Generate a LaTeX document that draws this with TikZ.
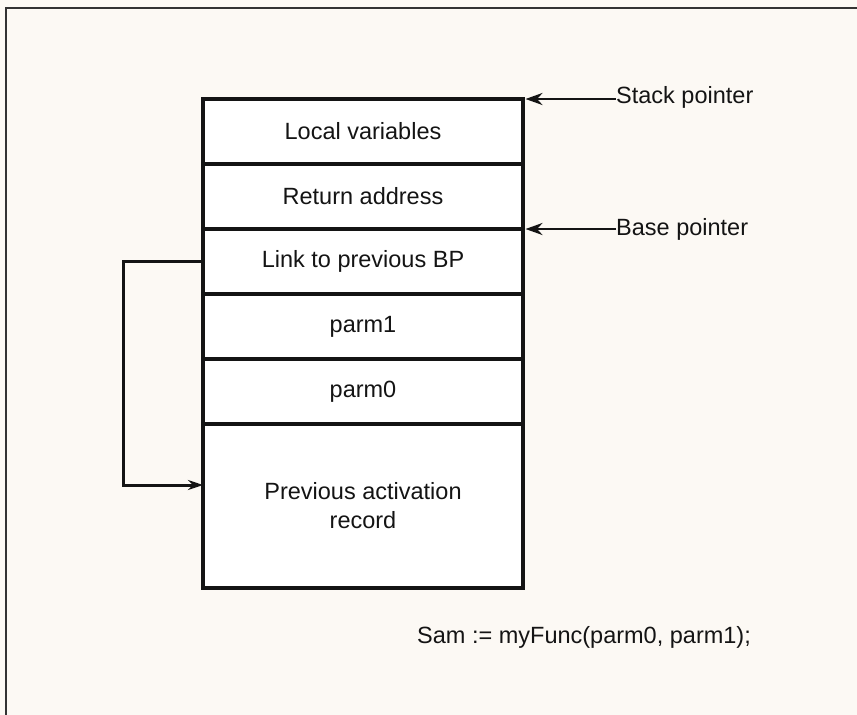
\documentclass[tikz,border=0pt]{standalone}
\usepackage{fontspec}
\setmainfont{Liberation Sans}
\usetikzlibrary{arrows.meta,positioning,calc}
\definecolor{cInk}{HTML}{141414}
\definecolor{cPaper}{HTML}{FCF9F4}
\definecolor{cFrame}{HTML}{333333}
\tikzset{
  every node/.style={font=\fontsize{23.5}{29}\selectfont, text=cInk},
  slot/.style={draw=cInk, line width=3.6pt, fill=white, minimum width=320pt, minimum height=65pt,
     outer sep=0pt, inner sep=0pt, align=center},
  ptr/.style={-{Stealth[length=17pt,width=12pt]}, line width=2.6pt, draw=cInk},
  lnk/.style={-{Stealth[length=15pt,width=10pt]}, line width=3pt, draw=cInk},
  lbl/.style={anchor=west, inner sep=0pt},
}
\begin{document}
\begin{tikzpicture}[x=1pt, y=1pt]
\useasboundingbox[fill=cPaper] (0,0) rectangle (857,-715);
\draw[cFrame, line width=2.6pt] (6,-715) -- (6,-8) -- (857,-8);
% the activation record
\node[slot, anchor=north] (lv) at (363,-99) {Local variables};
\node[slot, below=0pt of lv] (ra) {Return address};
\node[slot, below=0pt of ra] (link) {Link to previous BP};
\node[slot, below=0pt of link] (p1) {parm1};
\node[slot, below=0pt of p1] (p0) {parm0};
\node[slot, below=0pt of p0, minimum height=164pt] (prev) {Previous activation\\record};
% pointers
\node[lbl] (sptxt) at (616,-97) {Stack pointer};
\node[lbl] (bptxt) at (616,-229) {Base pointer};
\draw[ptr] (sptxt.west |- lv.north) -- ([xshift=2.5pt]lv.north east);
\draw[ptr] (bptxt.west |- ra.south) -- ([xshift=2.5pt]ra.south east);
\coordinate (turn) at (123,-485);
\draw[lnk] (link.west) -| (turn) -- (turn -| prev.west);
\node[lbl] (call) at (417,-637) {Sam := myFunc(parm0, parm1);};
\end{tikzpicture}
\end{document}
